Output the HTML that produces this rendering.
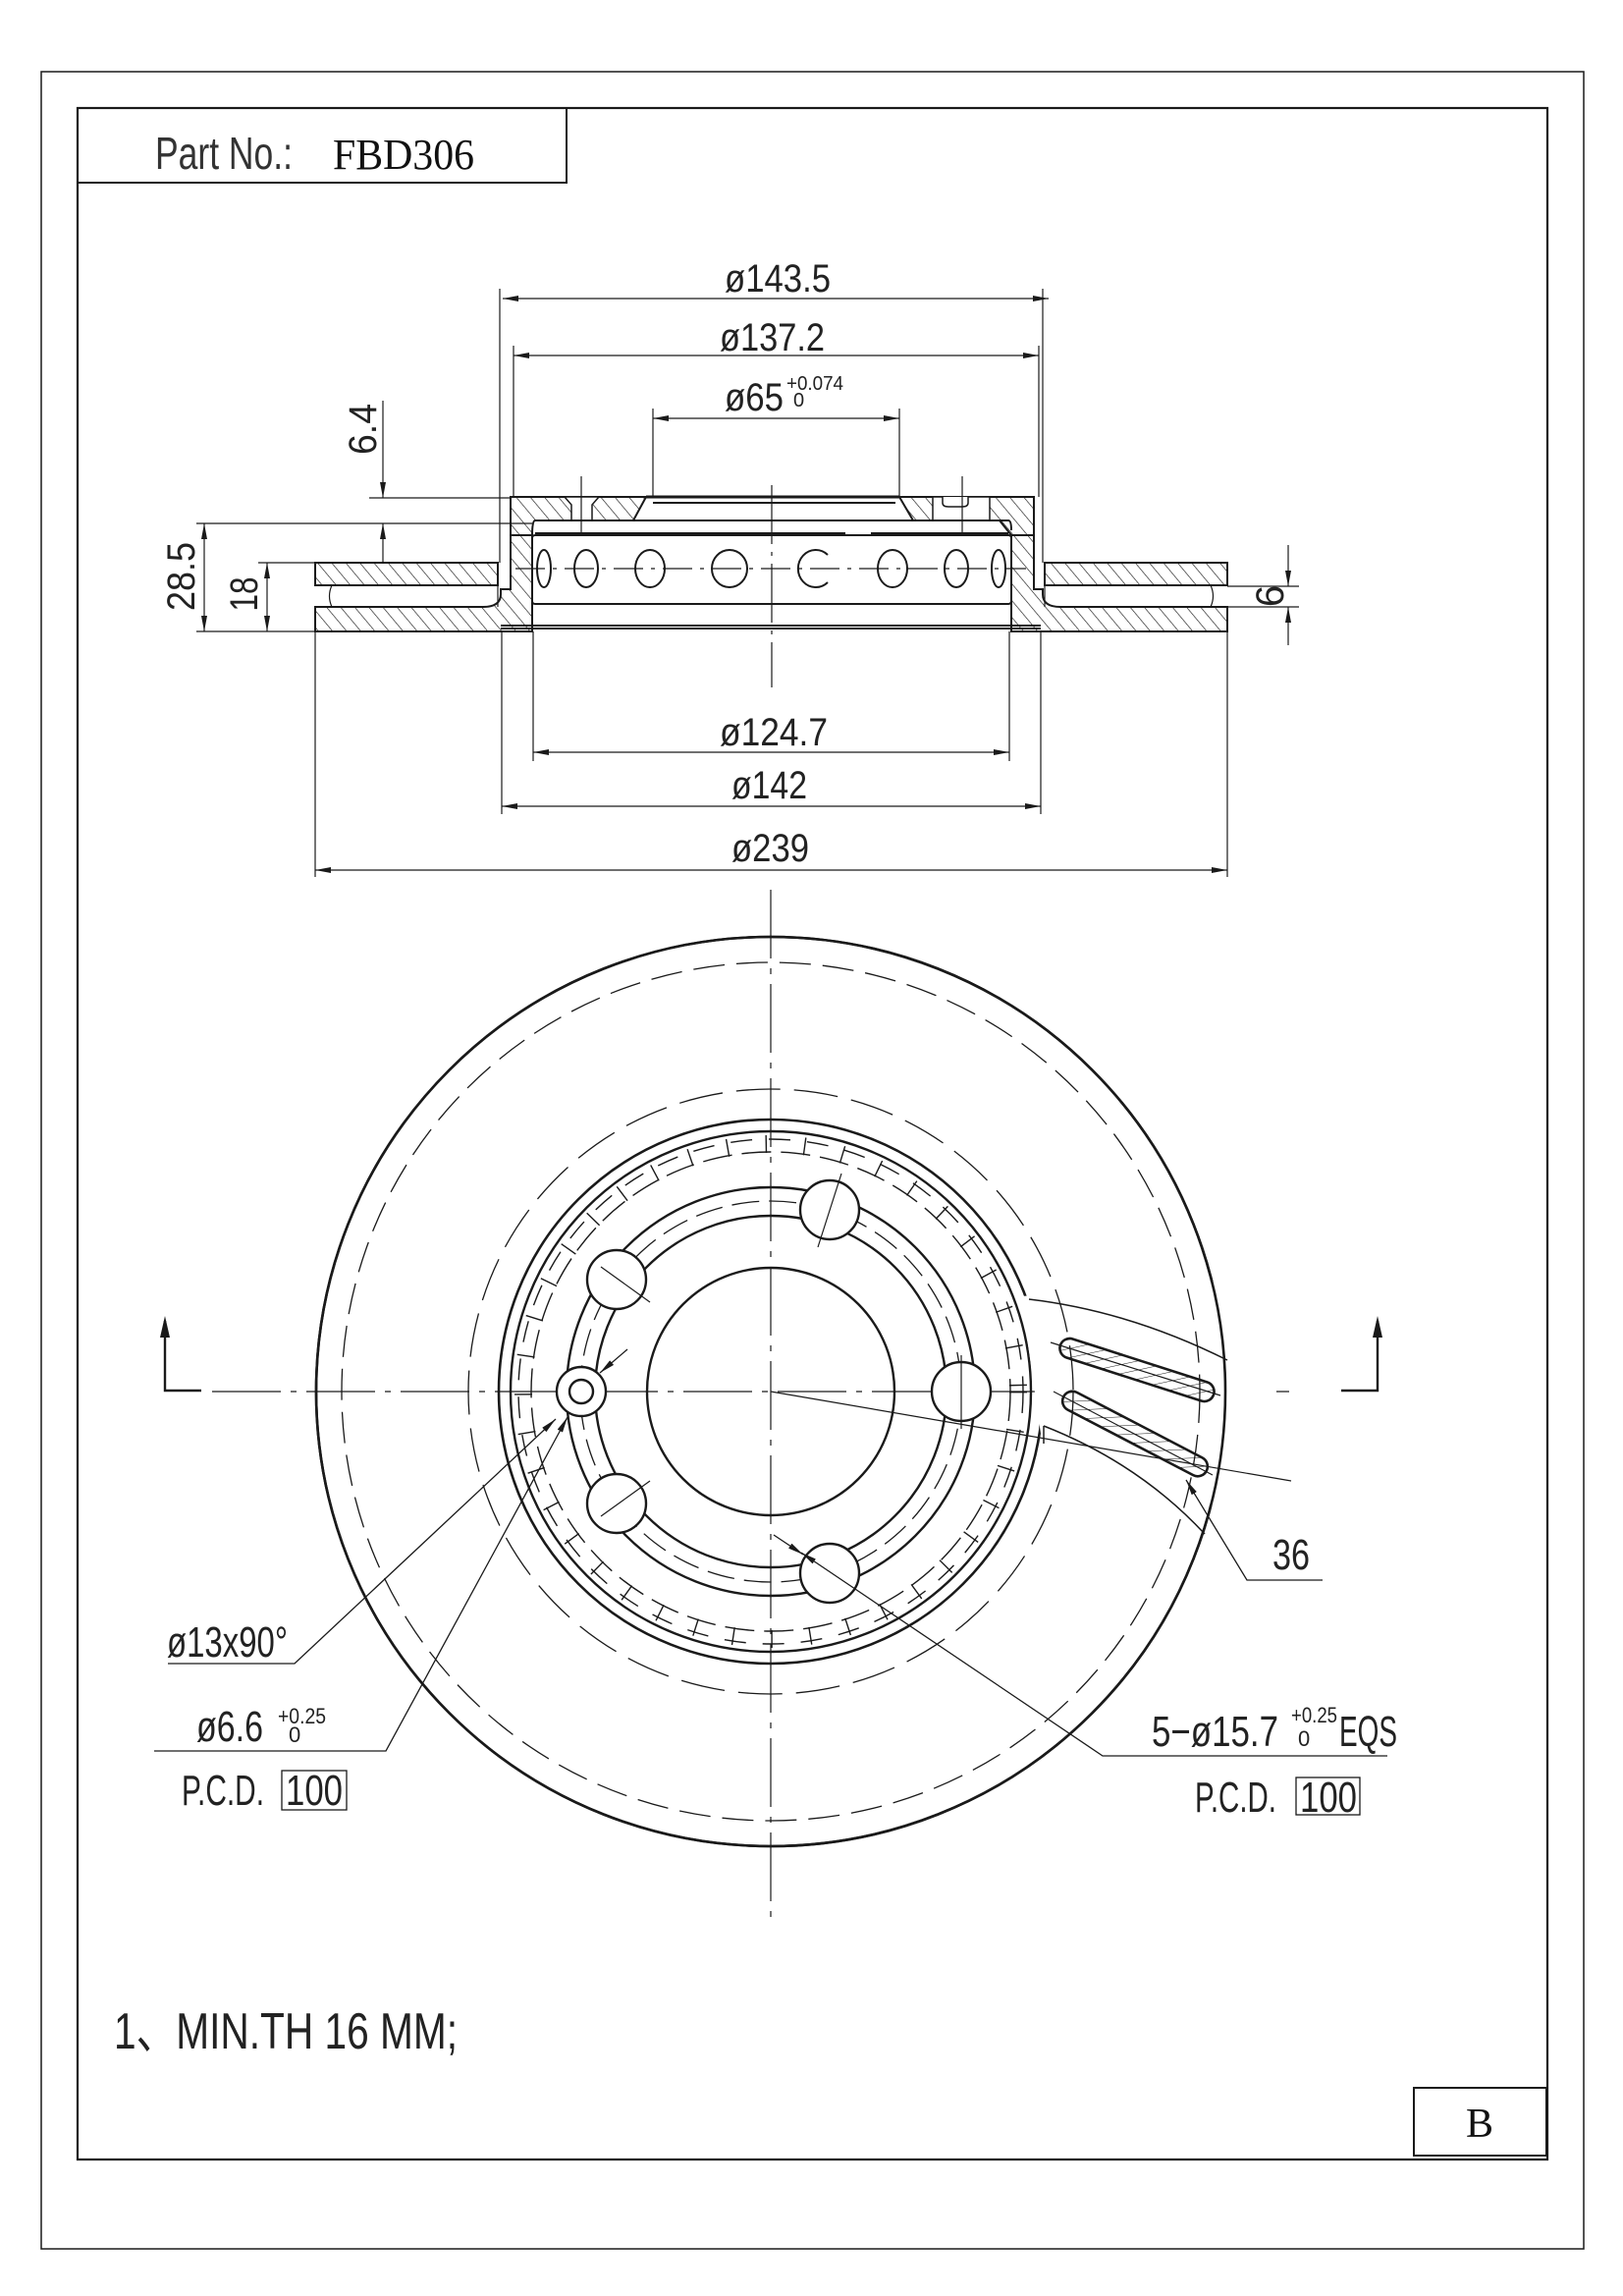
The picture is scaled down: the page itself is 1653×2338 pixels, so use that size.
<!DOCTYPE html>
<html><head><meta charset="utf-8"><style>html,body{margin:0;padding:0;background:#fff}svg{display:block}</style></head>
<body>
<svg width="1653" height="2338" viewBox="0 0 1653 2338" xmlns="http://www.w3.org/2000/svg" font-family="Liberation Sans, sans-serif" fill="none" stroke="#1a1a1a">
<defs>
<pattern id="h" width="11" height="11" patternUnits="userSpaceOnUse" patternTransform="rotate(-40)">
<line x1="0" y1="0" x2="0" y2="11" stroke="#1a1a1a" stroke-width="1.3"/>
</pattern>
<pattern id="h2" width="9" height="9" patternUnits="userSpaceOnUse" patternTransform="rotate(60)">
<line x1="0" y1="0" x2="0" y2="9" stroke="#1a1a1a" stroke-width="1"/>
</pattern>
<marker id="a" markerWidth="16" markerHeight="8" refX="16" refY="4" orient="auto" markerUnits="userSpaceOnUse"><path d="M0,1 L16,4 L0,7 z" fill="#1a1a1a" stroke="none"/></marker>
<marker id="as" markerWidth="16" markerHeight="8" refX="0" refY="4" orient="auto" markerUnits="userSpaceOnUse"><path d="M16,1 L0,4 L16,7 z" fill="#1a1a1a" stroke="none"/></marker>
</defs>

<rect x="42" y="73" width="1571" height="2217" stroke-width="1.5"/>
<rect x="79" y="110" width="1497" height="2089" stroke-width="2.2"/>
<polyline points="79,186 577,186 577,110" stroke-width="2"/>
<text x="158" y="172" font-size="46" fill="#333" stroke="none" textLength="140" lengthAdjust="spacingAndGlyphs">Part No.:</text>
<text x="339" y="172" font-size="44" font-family="Liberation Serif, serif" fill="#111" stroke="none" textLength="144" lengthAdjust="spacingAndGlyphs">FBD306</text>
<rect x="1440" y="2126" width="135" height="69" stroke-width="2"/>
<text x="1507" y="2176" font-size="42" font-family="Liberation Serif, serif" fill="#111" stroke="none" text-anchor="middle">B</text>

<g stroke-width="1.2">
<line x1="509" y1="294" x2="509" y2="573"/><line x1="1062" y1="294" x2="1062" y2="573"/>
<line x1="523" y1="352" x2="523" y2="506"/><line x1="1058" y1="352" x2="1058" y2="506"/>
<line x1="665" y1="416" x2="665" y2="506"/><line x1="916" y1="416" x2="916" y2="506"/>
<line x1="543" y1="643" x2="543" y2="775"/><line x1="1028" y1="643" x2="1028" y2="775"/>
<line x1="511" y1="643" x2="511" y2="829"/><line x1="1060" y1="643" x2="1060" y2="829"/>
<line x1="321" y1="643" x2="321" y2="893"/><line x1="1250" y1="643" x2="1250" y2="893"/>
<line x1="376" y1="507" x2="520" y2="507"/>
<line x1="200" y1="533" x2="542" y2="533"/>
<line x1="263" y1="573" x2="321" y2="573"/>
<line x1="200" y1="643" x2="321" y2="643"/>
<line x1="1250" y1="597" x2="1323" y2="597"/>
<line x1="1250" y1="618" x2="1323" y2="618"/>
<line x1="512" y1="304" x2="1068" y2="304" marker-start="url(#as)" marker-end="url(#a)"/>
<line x1="523" y1="362" x2="1058" y2="362" marker-start="url(#as)" marker-end="url(#a)"/>
<line x1="665" y1="426" x2="916" y2="426" marker-start="url(#as)" marker-end="url(#a)"/>
<line x1="543" y1="766" x2="1028" y2="766" marker-start="url(#as)" marker-end="url(#a)"/>
<line x1="511" y1="821" x2="1060" y2="821" marker-start="url(#as)" marker-end="url(#a)"/>
<line x1="321" y1="886" x2="1250" y2="886" marker-start="url(#as)" marker-end="url(#a)"/>
<line x1="208" y1="533" x2="208" y2="643" marker-start="url(#as)" marker-end="url(#a)"/>
<line x1="272" y1="573" x2="272" y2="643" marker-start="url(#as)" marker-end="url(#a)"/>
<line x1="390" y1="408" x2="390" y2="507" marker-end="url(#a)"/>
<line x1="390" y1="573" x2="390" y2="533" marker-end="url(#a)"/>
<line x1="1312" y1="555" x2="1312" y2="597" marker-end="url(#a)"/>
<line x1="1312" y1="657" x2="1312" y2="618" marker-end="url(#a)"/>
</g>
<g fill="#222" stroke="none" font-size="40">
<text x="738" y="297" textLength="108" lengthAdjust="spacingAndGlyphs">ø143.5</text>
<text x="733" y="357" textLength="107" lengthAdjust="spacingAndGlyphs">ø137.2</text>
<text x="738" y="418" textLength="60" lengthAdjust="spacingAndGlyphs">ø65</text>
<text x="801" y="397" font-size="20" textLength="58" lengthAdjust="spacingAndGlyphs">+0.074</text>
<text x="808" y="414" font-size="20">0</text>
<text x="733" y="759" textLength="110" lengthAdjust="spacingAndGlyphs">ø124.7</text>
<text x="745" y="813" textLength="77" lengthAdjust="spacingAndGlyphs">ø142</text>
<text x="745" y="877" textLength="79" lengthAdjust="spacingAndGlyphs">ø239</text>
<text transform="translate(383,437) rotate(-90)" text-anchor="middle" textLength="52" lengthAdjust="spacingAndGlyphs">6.4</text>
<text transform="translate(198,587) rotate(-90)" text-anchor="middle" textLength="70" lengthAdjust="spacingAndGlyphs">28.5</text>
<text transform="translate(262,605) rotate(-90)" text-anchor="middle" textLength="35" lengthAdjust="spacingAndGlyphs">18</text>
<text transform="translate(1307,607) rotate(-90)" text-anchor="middle">6</text>
</g>

<g fill="url(#h)" stroke="#1a1a1a" stroke-width="2">
<rect x="321" y="573" width="186" height="23"/>
<path d="M321,618 H492 Q510,618 510,605 V600 H520 V545 H542 V643 H321 Z"/>
<path d="M520,506 H658 L645,530 H545 Q542,530 542,545 H520 Z"/>
<rect x="1064" y="573" width="186" height="23"/>
<path d="M1250,618 H1080 Q1062,618 1062,605 V600 H1053 V545 H1030 V643 H1250 Z"/>
<path d="M916,506 H1053 V545 H1030 L1018,530 H930 Z"/>
</g>
<g fill="#fff" stroke="#1a1a1a" stroke-width="1.5">
<path d="M575,506 H610 L603,514 V530 H582 V514 Z"/>
<rect x="950" y="506" width="58" height="24"/>
<path d="M960,506 V512 Q960,516 966,516 H980 Q986,516 986,512 V506"/>
</g>
<g stroke-width="2">
<line x1="658" y1="506" x2="916" y2="506" stroke-width="3"/>
<line x1="665" y1="512" x2="912" y2="512"/>
<path d="M545,530 H1027 Q1030,530 1030,540"/>
<line x1="545" y1="543" x2="861" y2="543"/><line x1="887" y1="543" x2="1027" y2="543"/>
<rect x="542" y="545" width="488" height="70" rx="3"/>
<line x1="510" y1="637" x2="1060" y2="637"/>
<line x1="510" y1="640" x2="1060" y2="640"/>
<line x1="507" y1="573" x2="507" y2="618" stroke-width="1.2"/>
<line x1="1064" y1="573" x2="1064" y2="618" stroke-width="1.2"/>
<path d="M338,596 Q333,607 338,618" stroke-width="1.2"/>
<path d="M1233,596 Q1238,607 1233,618" stroke-width="1.2"/>
<ellipse cx="554" cy="579" rx="7" ry="19"/>
<ellipse cx="597" cy="579" rx="12" ry="19"/>
<ellipse cx="662" cy="579" rx="15" ry="19"/>
<ellipse cx="743" cy="579" rx="18" ry="19"/>
<path d="M843,565 A18,19 0 1 0 843,593"/>
<ellipse cx="909" cy="579" rx="15" ry="19"/>
<ellipse cx="974" cy="579" rx="12" ry="19"/>
<ellipse cx="1017" cy="579" rx="7" ry="19"/>
</g>
<g stroke-width="1.2">
<line x1="525" y1="579" x2="1045" y2="579" stroke-dasharray="30 8 4 8"/>
<line x1="786" y1="494" x2="786" y2="700" stroke-dasharray="60 8 4 8"/>
<line x1="592" y1="485" x2="592" y2="542"/><line x1="980" y1="485" x2="980" y2="542"/>
</g>

<g stroke-width="1.2">
<line x1="785" y1="906" x2="785" y2="1955" stroke-dasharray="70 10 6 10"/>
<line x1="216" y1="1417" x2="1313" y2="1417" stroke-dasharray="70 10 6 10"/>
</g>
<circle cx="785" cy="1417" r="463" stroke-width="2.6"/>
<circle cx="785" cy="1417" r="277" stroke-width="2.6"/>
<circle cx="785" cy="1417" r="265" stroke-width="2.4"/>
<circle cx="785" cy="1417" r="252" stroke-width="18" stroke-dasharray="1.4 38"/>
<circle cx="785" cy="1417" r="257" stroke-width="1.4" stroke-dasharray="22 17"/>
<circle cx="785" cy="1417" r="244" stroke-width="1.4" stroke-dasharray="30 10"/>
<path d="M1040,1320 L1300,1300 L1300,1560 L1060,1460 Z" fill="#fff" stroke="none"/>
<circle cx="785" cy="1417" r="463" stroke-width="2.6"/>
<circle cx="785" cy="1417" r="437" stroke-width="1.3" stroke-dasharray="32 12"/>
<circle cx="785" cy="1417" r="308" stroke-width="1.3" stroke-dasharray="45 14"/>
<g stroke-width="1.5">
<path d="M1048,1323 Q1150,1335 1250,1385"/>
<path d="M1063,1452 V1470"/>
<path d="M1063,1452 Q1160,1490 1227,1562"/>
</g>
<circle cx="785" cy="1417" r="208" stroke-width="2.4"/>
<circle cx="785" cy="1417" r="194" stroke-width="1.3" stroke-dasharray="28 10"/>
<circle cx="785" cy="1417" r="179" stroke-width="2.4"/>
<circle cx="785" cy="1417" r="126" stroke-width="2.4"/>
<g fill="#fff" stroke-width="2.4">
<circle cx="979" cy="1417" r="30"/>
<circle cx="845" cy="1232" r="30"/>
<circle cx="845" cy="1602" r="30"/>
<circle cx="628" cy="1531" r="30"/>
<circle cx="628" cy="1303" r="30"/>
<circle cx="592" cy="1417" r="25"/>
<circle cx="592" cy="1417" r="12"/>
</g>
<g stroke-width="1.2">
<line x1="979" y1="1380" x2="979" y2="1455"/>
<line x1="833" y1="1270" x2="857" y2="1195"/>
<line x1="612" y1="1290" x2="662" y2="1326"/>
<line x1="612" y1="1544" x2="662" y2="1508"/>
<line x1="785" y1="1417" x2="1315" y2="1508"/>
<line x1="1070" y1="1367" x2="1243" y2="1421"/>
<line x1="1073" y1="1417" x2="1235" y2="1502"/>
</g>
<g fill="url(#h2)" stroke-width="2.6">
<rect x="-82" y="-10" width="164" height="20" rx="10" transform="translate(1158,1395) rotate(17.8)"/>
<rect x="-82" y="-10" width="164" height="20" rx="10" transform="translate(1156,1460) rotate(27.5)"/>
</g>
<polyline points="1347,1609 1270,1609 1208,1507" stroke-width="1.3" marker-end="url(#a)"/>
<text x="1296" y="1598" font-size="44" fill="#222" stroke="none" textLength="38" lengthAdjust="spacingAndGlyphs">36</text>
<g stroke-width="2.4">
<polyline points="1403,1345 1403,1416 1366,1416"/>
<polyline points="168,1345 168,1416 205,1416"/>
</g>
<path d="M1403,1340 L1398,1362 L1408,1362 Z M168,1340 L163,1362 L173,1362 Z" fill="#1a1a1a" stroke="none"/>

<g stroke-width="1.3">
<polyline points="171,1694 300,1694 566,1445" marker-end="url(#a)"/>
<polyline points="157,1783 393,1783 578,1443" marker-end="url(#a)"/>
<line x1="639" y1="1374" x2="611" y2="1398" marker-end="url(#a)"/>
<polyline points="1413,1788 1123,1788 816,1581" marker-end="url(#a)"/>
<line x1="788" y1="1563" x2="818" y2="1583" marker-end="url(#a)"/>
<rect x="287" y="1803" width="66" height="40"/>
<rect x="1320" y="1810" width="65" height="38"/>
</g>
<g fill="#222" stroke="none" font-size="44">
<text x="170" y="1687" textLength="123" lengthAdjust="spacingAndGlyphs">ø13x90°</text>
<text x="200" y="1773" textLength="68" lengthAdjust="spacingAndGlyphs">ø6.6</text>
<text x="283" y="1755" font-size="22" textLength="49" lengthAdjust="spacingAndGlyphs">+0.25</text>
<text x="294" y="1774" font-size="22">0</text>
<text x="185" y="1838" textLength="84" lengthAdjust="spacingAndGlyphs">P.C.D.</text>
<text x="291" y="1838" textLength="58" lengthAdjust="spacingAndGlyphs">100</text>
<text x="1173" y="1778" textLength="129" lengthAdjust="spacingAndGlyphs">5−ø15.7</text>
<text x="1315" y="1754" font-size="22" textLength="47" lengthAdjust="spacingAndGlyphs">+0.25</text>
<text x="1322" y="1778" font-size="22">0</text>
<text x="1364" y="1778" textLength="59" lengthAdjust="spacingAndGlyphs">EQS</text>
<text x="1217" y="1845" textLength="83" lengthAdjust="spacingAndGlyphs">P.C.D.</text>
<text x="1324" y="1845" textLength="58" lengthAdjust="spacingAndGlyphs">100</text>
<text x="116" y="2086" font-size="52" textLength="350" lengthAdjust="spacingAndGlyphs" font-family="Liberation Sans, Noto Sans CJK SC, sans-serif">1、MIN.TH 16 MM;</text>
</g>
</svg>
</body></html>
